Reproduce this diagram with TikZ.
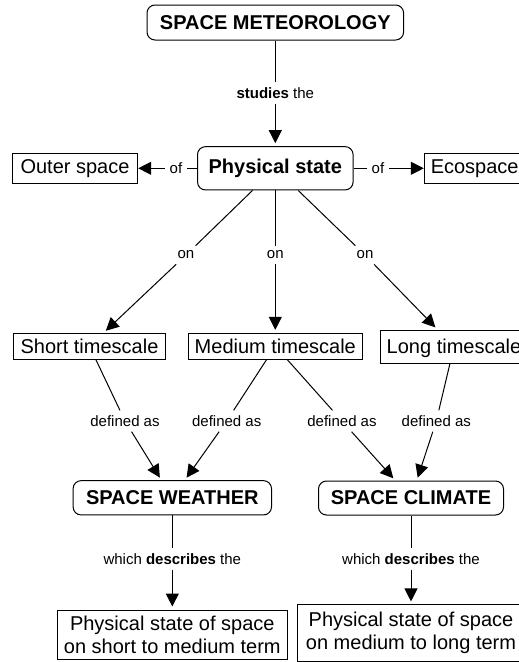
\documentclass[tikz,border=0pt]{standalone}
\usepackage{fontspec}
\setmainfont{Liberation Sans}
\usetikzlibrary{arrows.meta}
\tikzset{
  base/.style={draw, line width=1pt, inner sep=0pt, align=center, font=\fontsize{20}{23}\selectfont},
  concept/.style={base, rounded corners=8pt, font=\fontsize{20}{23}\selectfont\bfseries},
  plainbox/.style={base},
  lbl/.style={inner sep=5pt, font=\fontsize{15}{17}\selectfont},
  conn/.style={line width=1pt},
  arr/.style={conn, -{Triangle[length=13pt,width=13pt]}, shorten >=3pt},
  harr/.style={conn, -{Triangle[length=13pt,width=13pt]}},
}
\begin{document}
\begin{tikzpicture}[x=1pt,y=-1pt]
\useasboundingbox (0,0) rectangle (519,662);
\clip (0,0) rectangle (519,662);
% concepts
\node[concept, minimum width=256.6pt, minimum height=35pt] (sm) at (275.3,22.5) {SPACE METEOROLOGY};
\node[concept, minimum width=155.6pt, minimum height=43.3pt] (ps) at (275.3,168.3) {Physical state};
\node[plainbox, minimum width=125.4pt, minimum height=30pt] (os) at (75,168.3) {Outer space};
\node[plainbox, minimum width=100.7pt, minimum height=30pt] (eco) at (474.7,168.3) {Ecospace};
\node[plainbox, minimum width=152.4pt, minimum height=25.7pt] (st) at (89.5,346.2) {Short timescale};
\node[plainbox, minimum width=174pt, minimum height=25.7pt] (mt) at (275.3,346.2) {Medium timescale};
\node[plainbox, minimum width=148pt, minimum height=33pt, text depth=0pt] (lt) at (454,346.5) {Long timescale};
\node[concept, minimum width=198.4pt, minimum height=34.3pt] (sw) at (172.3,497.8) {SPACE WEATHER};
\node[concept, minimum width=185pt, minimum height=34pt] (sc) at (411,498) {SPACE CLIMATE};
\node[plainbox, minimum width=230.6pt, minimum height=49pt] (bl) at (172.3,634.5) {Physical state of space\\on short to medium term};
\node[plainbox, minimum width=226.7pt, minimum height=56.7pt] (br) at (411,633.3) {Physical state of space\\on medium to long term};
% labels
\node[lbl] (l0) at (275.3,93) {\textbf{studies} the};
\node[lbl] (lof1) at (176,168.3) {of};
\node[lbl] (lof2) at (378,168.3) {of};
\node[lbl] (on1) at (186,255) {on};
\node[lbl] (on2) at (275.3,255) {on};
\node[lbl] (on3) at (365,255) {on};
\node[lbl] (d1) at (125,421) {defined as};
\node[lbl] (d2) at (226.7,421) {defined as};
\node[lbl] (d3) at (342,421) {defined as};
\node[lbl] (d4) at (436.3,421) {defined as};
\node[lbl] (w1) at (172.3,559) {which \textbf{describes} the};
\node[lbl] (w2) at (411,559) {which \textbf{describes} the};
% connectors
\draw[conn] (sm) -- (l0); \draw[arr] (l0) -- (ps);
\draw[conn] (ps) -- (lof1); \draw[harr] (lof1) -- (os);
\draw[conn] (ps) -- (lof2); \draw[harr] (lof2) -- (eco);
\draw[conn] (ps) -- (on1); \draw[arr] (on1) -- (st);
\draw[conn] (ps) -- (on2); \draw[arr] (on2) -- (mt);
\draw[conn] (ps) -- (on3); \draw[arr] (on3) -- (lt);
\draw[conn] (st) -- (d1); \draw[arr] (d1) -- (sw);
\draw[conn] (mt) -- (d2); \draw[arr] (d2) -- (sw);
\draw[conn] (mt) -- (d3); \draw[arr] (d3) -- (sc);
\draw[conn] (lt) -- (d4); \draw[arr] (d4) -- (sc);
\draw[conn] (sw) -- (w1); \draw[arr] (w1) -- (bl);
\draw[conn] (sc) -- (w2); \draw[arr] (w2) -- (br);
\end{tikzpicture}
\end{document}
